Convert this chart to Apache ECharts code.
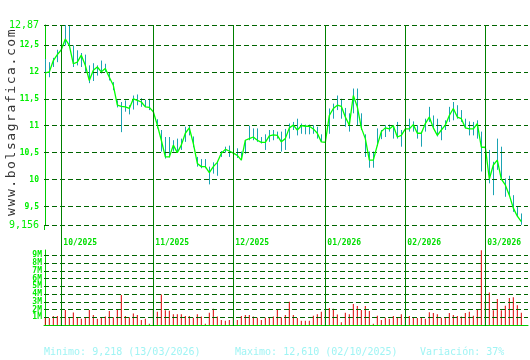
<!DOCTYPE html>
<html>
<head>
<meta charset="utf-8">
<script src="https://cdn.jsdelivr.net/npm/echarts@6/dist/echarts.min.js"></script>
<style>html,body{margin:0;padding:0;background:#fff}#c{width:530px;height:360px}</style>
</head>
<body>
<div id="c"></div>
<script>
// ---- data (one entry per trading day, 25/09/2025 .. 13/03/2026) ----
const closes = [11.98,12.00,12.21,12.32,12.41,12.61,12.49,12.15,12.18,12.31,
12.12,11.84,12.03,12.09,12.00,12.06,11.90,11.75,11.38,11.36,
11.35,11.32,11.50,11.47,11.44,11.35,11.34,11.26,11.01,10.73,
10.42,10.42,10.64,10.50,10.64,10.86,10.96,10.67,10.30,10.24,
10.24,10.13,10.24,10.32,10.49,10.56,10.53,10.49,10.45,10.36,
10.73,10.76,10.79,10.73,10.69,10.69,10.81,10.83,10.82,10.70,
10.76,10.96,11.01,10.92,11.00,10.99,10.99,10.94,10.86,10.70,
10.69,11.19,11.32,11.38,11.36,11.16,11.01,11.56,11.35,10.96,
10.76,10.36,10.36,10.64,10.89,10.96,10.94,11.00,10.79,10.82,
10.94,10.94,11.02,10.86,10.86,11.04,11.16,10.96,10.82,10.92,
11.01,11.19,11.32,11.16,11.13,10.96,10.94,10.94,11.04,10.60,
10.60,10.01,10.27,10.36,10.01,9.90,9.71,9.47,9.32,9.218];
const highs = [12.24,12.18,12.26,12.41,12.45,12.87,12.87,12.49,12.40,12.35,
12.32,12.12,12.16,12.12,12.21,12.15,11.98,11.81,11.47,11.44,
11.47,11.38,11.56,11.58,11.51,11.48,11.50,11.35,11.12,10.92,
10.79,10.79,10.73,10.76,10.76,10.98,11.01,10.80,10.42,10.38,
10.38,10.24,10.32,10.33,10.53,10.61,10.63,10.55,10.58,10.52,
10.73,11.00,10.95,10.95,10.79,10.84,10.92,10.92,10.89,10.89,
10.94,11.04,11.07,11.13,11.04,11.02,11.02,11.01,10.98,10.84,
10.72,11.32,11.41,11.56,11.50,11.33,11.23,11.69,11.69,11.23,
10.84,10.52,10.52,10.95,10.92,11.01,11.02,11.01,11.07,10.92,
11.00,11.13,11.08,11.01,10.89,11.13,11.35,11.19,11.13,11.01,
11.10,11.35,11.44,11.38,11.29,11.13,11.08,11.07,11.10,10.89,
10.70,10.55,10.33,10.76,10.61,10.02,10.07,9.71,9.50,9.37];
const lows = [11.97,11.90,12.09,12.18,12.30,12.49,12.47,12.09,12.12,12.09,
12.00,11.79,11.83,11.93,11.97,12.00,11.84,11.66,11.34,10.88,
11.26,11.21,11.30,11.38,11.35,11.35,11.29,11.19,10.95,10.52,
10.39,10.41,10.52,10.50,10.55,10.70,10.82,10.60,10.24,10.21,
10.21,9.91,10.11,10.07,10.42,10.50,10.42,10.45,10.40,10.36,
10.48,10.73,10.73,10.70,10.67,10.55,10.70,10.73,10.76,10.52,
10.55,10.76,10.92,10.82,10.85,10.84,10.84,10.85,10.76,10.70,
10.66,10.85,11.13,11.29,11.13,10.98,10.89,11.23,11.01,10.92,
10.42,10.22,10.22,10.62,10.75,10.79,10.89,10.76,10.76,10.61,
10.85,10.89,10.89,10.76,10.61,10.89,11.07,10.95,10.80,10.73,
10.92,11.07,11.10,11.13,11.07,10.95,10.82,10.82,10.76,10.15,
10.55,9.93,9.71,10.18,10.00,9.68,9.71,9.40,9.31,9.16];
const volumes = [1.0,0.9,1.15,1.15,1.0,1.94,0.95,1.63,0.95,0.8,
0.95,1.94,1.3,0.8,0.95,1.1,1.8,1.0,2.0,3.87,
1.15,1.0,1.5,1.3,0.65,0.8,0.15,2.0,1.7,3.95,
1.9,1.85,1.4,1.4,1.4,1.15,1.15,0.95,1.4,1.1,
0.15,1.6,2.1,1.1,0.65,0.55,0.65,1.0,0.65,1.15,
1.3,1.3,1.1,0.95,0.65,0.95,0.95,1.1,1.94,1.0,
1.3,3.0,1.3,0.9,0.55,0.55,0.55,1.2,1.4,1.7,
1.9,2.2,2.1,1.35,0.35,1.6,1.4,2.7,2.45,1.94,
2.45,1.8,0.15,1.2,0.65,0.95,0.8,1.15,0.95,1.4,
1.0,1.15,0.95,0.9,0.95,0.8,1.65,1.55,1.4,0.95,
0.9,1.55,1.3,1.15,1.1,1.55,1.7,1.2,2.0,9.68,
3.0,4.2,1.9,3.35,1.9,2.5,3.5,3.6,2.55,1.6];
const monthStartIdx = [4,27,47,70,90,110];
const monthLabels = ['10/2025','11/2025','12/2025','01/2026','02/2026','03/2026'];
const priceTicks = [12.87,12.5,12,11.5,11,10.5,10,9.5,9.156];
const priceTickLabels = ['12,87','12,5','12','11,5','11','10,5','10','9,5','9,156'];
const volTicks = [1,2,3,4,5,6,7,8,9];
const volTickLabels = ['1M','2M','3M','4M','5M','6M','7M','8M','9M'];
const footerTexts = ['Minimo: 9,218 (13/03/2026)','Maximo: 12,610 (02/10/2025)','Variación: 37%'];
const watermark = 'www.bolsagrafica.com';

// ---- chart ----
const MONO = '"DejaVu Sans Mono", "Liberation Mono", monospace';
const XMIN = -0.33, XMAX = 120.67;
const GRID_COLOR = '#006400';
const dash = [5,3];
const chart = echarts.init(document.getElementById('c'), null, {renderer:'canvas'});
function findIdx(arr, v){ for (let k=0;k<arr.length;k++){ if (Math.abs(arr[k]-v)<1e-6) return k; } return -1; }

const option = {
  backgroundColor:'#ffffff',
  animation:false,
  grid:[{left:44, top:25, width:484, height:200},{left:44, top:250, width:484, height:75}],
  xAxis:[
    {gridIndex:0, type:'value', min:XMIN, max:XMAX,
     axisLine:{show:false}, axisTick:{show:false}, splitLine:{show:false},
     axisLabel:{customValues:monthStartIdx, showMinLabel:true, showMaxLabel:true,
       formatter:(v)=>{const k=findIdx(monthStartIdx,v); return k<0?'':monthLabels[k];},
       align:'left', margin:14, padding:[0,0,0,2], color:'#00dd00', fontFamily:MONO, fontWeight:'bold', fontSize:8}},
    {gridIndex:1, type:'value', min:XMIN, max:XMAX,
     axisLine:{show:true, onZero:false, lineStyle:{color:'#00cc00', width:1}}, axisTick:{show:false},
     splitLine:{show:false}, axisLabel:{show:false}}
  ],
  yAxis:[
    {gridIndex:0, type:'value', min:9.156, max:12.87,
     axisLine:{show:true, lineStyle:{color:'#00cc00', width:1}}, axisTick:{show:false}, splitLine:{show:false},
     axisLabel:{customValues:priceTicks, showMinLabel:true, showMaxLabel:true, margin:5,
       formatter:(v)=>{const k=findIdx(priceTicks,v); if(k<0) return ''; return (k===0||k===priceTicks.length-1)?'{b|'+priceTickLabels[k]+'}':'{s|'+priceTickLabels[k]+'}';},
       rich:{b:{fontFamily:MONO, fontSize:10, color:'#00ee00'}, s:{fontFamily:MONO, fontSize:8, fontWeight:'bold', color:'#00ee00'}}}},
    {gridIndex:1, type:'value', min:0, max:9.7,
     axisLine:{show:true, lineStyle:{color:'#00cc00', width:1}}, axisTick:{show:false}, splitLine:{show:false},
     axisLabel:{show:false}}
  ],
  series:[
    {type:'custom', xAxisIndex:0, yAxisIndex:0, silent:true,
     data: highs.map((h,i)=>[i, lows[i], h]),
     renderItem:(params, api)=>{
       const p1 = api.coord([api.value(0), api.value(1)]);
       const p2 = api.coord([api.value(0), api.value(2)]);
       const x = Math.round(p1[0]) + 0.5;
       return {type:'line', shape:{x1:x, y1:p1[1], x2:x, y2:p2[1]}, style:{stroke:'#1aa3b3', lineWidth:1}};
     },
     markLine:{silent:true, symbol:'none', label:{show:false}, animation:false,
       lineStyle:{color:GRID_COLOR, type:dash, width:1.2},
       data: priceTicks.map(v=>({yAxis:v}))}
    },
    {type:'line', xAxisIndex:0, yAxisIndex:0, silent:true, showSymbol:false,
     data: closes.map((c,i)=>[i,c]),
     lineStyle:{color:'#00ff00', width:1.3}, z:5},
    {type:'bar', xAxisIndex:1, yAxisIndex:1, silent:true, barWidth:1,
     data: volumes.map((v,i)=>[i,v]),
     itemStyle:{color:'#dd0000'},
     markLine:{silent:true, symbol:'none', animation:false,
       label:{show:true, position:'start', distance:2,
         formatter:(p)=>{const k=findIdx(volTicks,p.value); return k<0?'':volTickLabels[k];},
         fontFamily:MONO, fontSize:8, fontWeight:'bold', color:'#00ee00'},
       lineStyle:{color:GRID_COLOR, type:dash, width:1.2},
       data: volTicks.map(v=>({yAxis:v}))}
    }
  ]
};
chart.setOption(option);

// month separators through both panels, positioned by the x scale
const graphics = [];
monthStartIdx.forEach((idx)=>{
  const x = Math.round(chart.convertToPixel({xAxisIndex:0}, idx)) + 0.5;
  graphics.push({type:'line', shape:{x1:x, y1:25, x2:x, y2:326}, style:{stroke:'#008000', lineWidth:1}, z:10, silent:true});
});
// price axis line runs slightly past the lowest tick, as in the reference
const yb = chart.convertToPixel({yAxisIndex:0}, priceTicks[priceTicks.length-1]);
const xa = chart.convertToPixel({xAxisIndex:0}, XMIN);
graphics.push({type:'line', shape:{x1:Math.round(xa)+0.5, y1:yb, x2:Math.round(xa)+0.5, y2:yb+5}, style:{stroke:'#00cc00', lineWidth:1}, silent:true});
// rotated watermark, one glyph per slot
for (let k=0;k<watermark.length;k++){
  graphics.push({type:'text', x:12, y:212 - k*9.4, rotation:Math.PI/2, silent:true,
    style:{text:watermark[k], font:'13px '+MONO, fill:'#333333', align:'center', verticalAlign:'middle'}});
}
const footerX = [44, 235, 420];
footerTexts.forEach((t,k)=>{
  graphics.push({type:'text', x:footerX[k], y:352, silent:true,
    style:{text:t, font:'10px '+MONO, fill:'#a0f4f4', align:'left', verticalAlign:'middle'}});
});
chart.setOption({graphic:graphics});
</script>
</body>
</html>
